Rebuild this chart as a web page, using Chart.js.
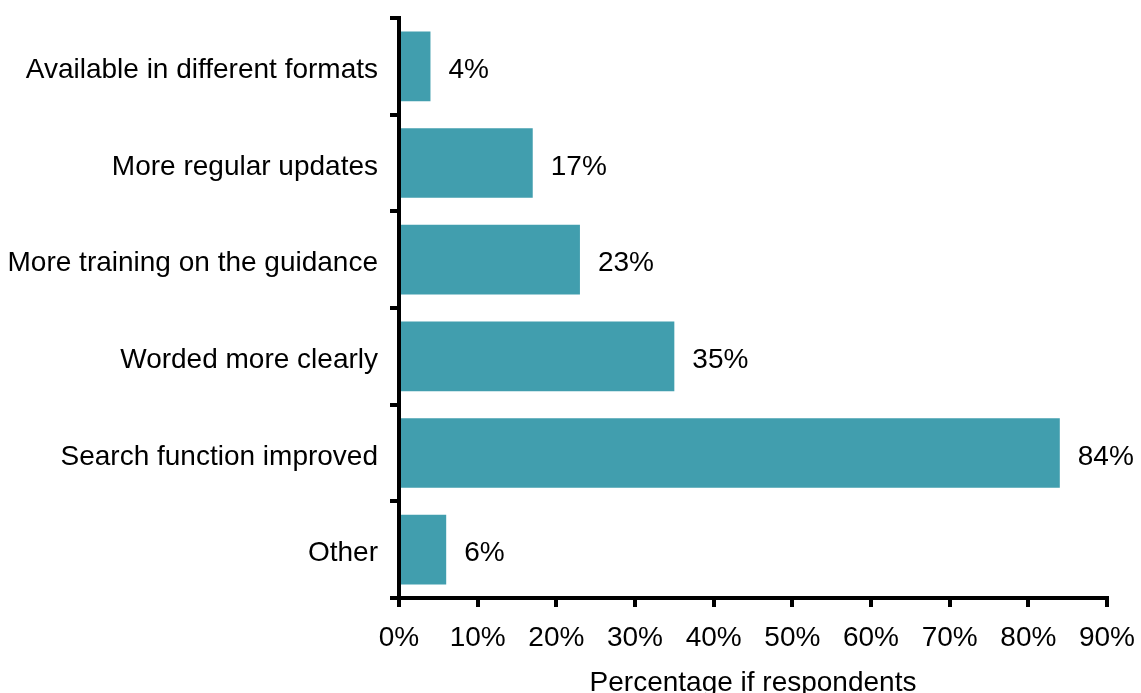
<!DOCTYPE html>
<html>
<head>
<meta charset="utf-8">
<script src="https://cdn.jsdelivr.net/npm/chart.js@4"></script>
<style>
  html, body { margin: 0; padding: 0; background: #fff; }
  .graphBox { width: 1141px; height: 693px; position: relative; }
</style>
</head>
<body>
<div class="graphBox"><canvas id="graph"></canvas></div>
<script>
const categories = [
  'Available in different formats',
  'More regular updates',
  'More training on the guidance',
  'Worded more clearly',
  'Search function improved',
  'Other'
];
const shares = [4, 17, 23, 35, 84, 6];
const xTicks = [0, 10, 20, 30, 40, 50, 60, 70, 80, 90];

const FONT = { family: '"Liberation Sans", Arial, sans-serif', size: 28 };

// writes the percentage next to the end of each bar
const barLabels = {
  id: 'barLabels',
  afterDatasetsDraw(chart) {
    const ctx = chart.ctx;
    const meta = chart.getDatasetMeta(0);
    ctx.save();
    ctx.font = FONT.size + 'px ' + FONT.family;
    ctx.fillStyle = '#000';
    ctx.textAlign = 'left';
    ctx.textBaseline = 'middle';
    meta.data.forEach((bar, i) => {
      ctx.fillText(shares[i] + '%', bar.x + 18, bar.y + 4);
    });
    ctx.restore();
  }
};

new Chart(document.getElementById('graph'), {
  type: 'bar',
  data: {
    labels: categories,
    datasets: [{
      data: shares,
      backgroundColor: 'rgb(65, 158, 174)',
      barPercentage: 0.72,
      categoryPercentage: 1
    }]
  },
  options: {
    indexAxis: 'y',
    responsive: true,
    maintainAspectRatio: false,
    animation: false,
    layout: { padding: { top: 18, right: 34, left: 0, bottom: 0 } },
    plugins: { legend: { display: false }, tooltip: { enabled: false } },
    scales: {
      x: {
        min: 0,
        max: 90,
        afterBuildTicks(scale) { scale.ticks = xTicks.map(v => ({ value: v })); },
        afterFit(scale) {
          scale.height = 95;
          scale.paddingLeft = 0;
          scale.paddingRight = 0;
        },
        border: { color: '#000', width: 4 },
        grid: { drawOnChartArea: false, color: '#000', tickLength: 9, lineWidth: 4 },
        ticks: { color: '#000', font: FONT, padding: 14, callback: v => v + '%', maxRotation: 0 },
        title: { display: true, text: 'Percentage if respondents', color: '#000', font: FONT, padding: { top: 0, bottom: -7 } }
      },
      y: {
        afterFit(scale) {
          scale.width = 399;
          scale.paddingTop = 0;
          scale.paddingBottom = 0;
        },
        border: { color: '#000', width: 4 },
        grid: { drawOnChartArea: false, color: '#000', tickLength: 9, lineWidth: 4 },
        ticks: { color: '#000', font: FONT, padding: 12, labelOffset: 4 }
      }
    }
  },
  plugins: [barLabels]
});
</script>
</body>
</html>
